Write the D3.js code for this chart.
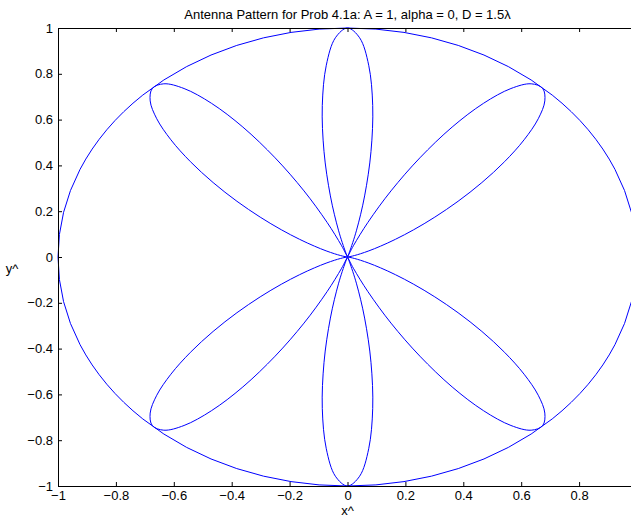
<!DOCTYPE html>
<html>
<head>
<meta charset="utf-8">
<script src="https://cdn.jsdelivr.net/npm/d3@7"></script>
<style>
  body { margin: 0; background: #fff; }
  svg text { font-family: "Liberation Sans", Arial, sans-serif; font-size: 13px; fill: #000; }
</style>
</head>
<body>
<div id="chart"></div>
<script>
// Pattern samples, every 2.5 degrees from 0 to 357.5
const angleDeg = d3.range(0, 360, 2.5);
const radius = [
  0, 0.0000, 0.0003, 0.0016, 0.0051, 0.0124, 0.0256, 0.0468, 0.0786, 0.1232, 0.1826, 0.2578,
  0.3482, 0.4528, 0.5666, 0.6840, 0.7964, 0.8937, 0.9639, 0.9982, 0.9873, 0.9273, 0.8197, 0.6728,
  0.5000, 0.3255, 0.1669, 0.0531, 0.0017, 0.0235, 0.1183, 0.2732, 0.4670, 0.6670, 0.8405, 0.9583,
  1.0000, 0.9583, 0.8405, 0.6670, 0.4670, 0.2732, 0.1183, 0.0235, 0.0017, 0.0531, 0.1669, 0.3255,
  0.5000, 0.6728, 0.8197, 0.9273, 0.9873, 0.9982, 0.9639, 0.8937, 0.7964, 0.6840, 0.5666, 0.4528,
  0.3482, 0.2578, 0.1826, 0.1232, 0.0786, 0.0468, 0.0256, 0.0124, 0.0051, 0.0016, 0.0003, 0.0000,
  0, 0.0000, 0.0003, 0.0016, 0.0051, 0.0124, 0.0256, 0.0468, 0.0786, 0.1232, 0.1826, 0.2578,
  0.3482, 0.4528, 0.5666, 0.6840, 0.7964, 0.8937, 0.9639, 0.9982, 0.9873, 0.9273, 0.8197, 0.6728,
  0.5000, 0.3255, 0.1669, 0.0531, 0.0017, 0.0235, 0.1183, 0.2732, 0.4670, 0.6670, 0.8405, 0.9583,
  1.0000, 0.9583, 0.8405, 0.6670, 0.4670, 0.2732, 0.1183, 0.0235, 0.0017, 0.0531, 0.1669, 0.3255,
  0.5000, 0.6728, 0.8197, 0.9273, 0.9873, 0.9982, 0.9639, 0.8937, 0.7964, 0.6840, 0.5666, 0.4528,
  0.3482, 0.2578, 0.1826, 0.1232, 0.0786, 0.0468, 0.0256, 0.0124, 0.0051, 0.0016, 0.0003, 0.0000
];
// reference unit circle
const circleRadius = 1;

const xTicks = [-1, -0.8, -0.6, -0.4, -0.2, 0, 0.2, 0.4, 0.6, 0.8, 1];
const yTicks = [-1, -0.8, -0.6, -0.4, -0.2, 0, 0.2, 0.4, 0.6, 0.8, 1];

const titleText = 'Antenna Pattern for Prob 4.1a: A = 1, alpha = 0, D = 1.5\u03bb';

const width = 631, height = 518;
const mLeft = 58, mRight = 637, mTop = 28, mBottom = 486;

const svg = d3.select('#chart').append('svg')
  .attr('width', width)
  .attr('height', height);

const x = d3.scaleLinear().domain([-1, 1]).range([mLeft, mRight]);
const y = d3.scaleLinear().domain([-1, 1]).range([mBottom, mTop]);

const plot = svg.append('g');

// unit circle
plot.append('ellipse')
  .attr('cx', x(0))
  .attr('cy', y(0))
  .attr('rx', x(circleRadius) - x(0))
  .attr('ry', y(0) - y(circleRadius))
  .style('fill', 'none')
  .style('stroke', '#0000ff')
  .style('stroke-width', 1);

// pattern
const pts = angleDeg.map((a, i) => {
  const t = a * Math.PI / 180;
  return [radius[i] * Math.cos(t), radius[i] * Math.sin(t)];
});

const line = d3.line()
  .x(d => x(d[0]))
  .y(d => y(d[1]))
  .curve(d3.curveCatmullRomClosed.alpha(0.5));

plot.append('path')
  .datum(pts)
  .attr('d', line)
  .style('fill', 'none')
  .style('stroke', '#0000ff')
  .style('stroke-width', 1);

// axes box with inward ticks
const axisG = svg.append('g');
const tickLen = 4;

axisG.append('g')
  .attr('transform', `translate(0,${mBottom})`)
  .call(d3.axisBottom(x).tickValues(xTicks).tickSizeInner(-tickLen).tickSizeOuter(0).tickPadding(5)
    .tickFormat(d => d === 1 ? '' : d3.format('')(d)));

axisG.append('g')
  .attr('transform', `translate(0,${mTop})`)
  .call(d3.axisTop(x).tickValues(xTicks).tickSizeInner(-tickLen).tickSizeOuter(0).tickFormat(''));

axisG.append('g')
  .attr('transform', `translate(${mLeft},0)`)
  .call(d3.axisLeft(y).tickValues(yTicks).tickSizeInner(-tickLen).tickSizeOuter(0).tickPadding(5)
    .tickFormat(d3.format('')));

axisG.append('g')
  .attr('transform', `translate(${mRight},0)`)
  .call(d3.axisRight(y).tickValues(yTicks).tickSizeInner(-tickLen).tickSizeOuter(0).tickFormat(''));

axisG.selectAll('.domain').style('stroke', '#000').style('stroke-width', 1);
axisG.selectAll('.tick line').style('stroke', '#000');
axisG.selectAll('.tick text').style('font-size', '13px').style('font-family', '"Liberation Sans", Arial, sans-serif');

// title and labels
svg.append('text')
  .attr('x', (mLeft + mRight) / 2)
  .attr('y', 19)
  .attr('text-anchor', 'middle')
  .text(titleText);

svg.append('text')
  .attr('x', (mLeft + mRight) / 2)
  .attr('y', 515)
  .attr('text-anchor', 'middle')
  .text('x^');

svg.append('text')
  .attr('x', 12)
  .attr('y', 273)
  .attr('text-anchor', 'middle')
  .text('y^');
</script>
</body>
</html>
